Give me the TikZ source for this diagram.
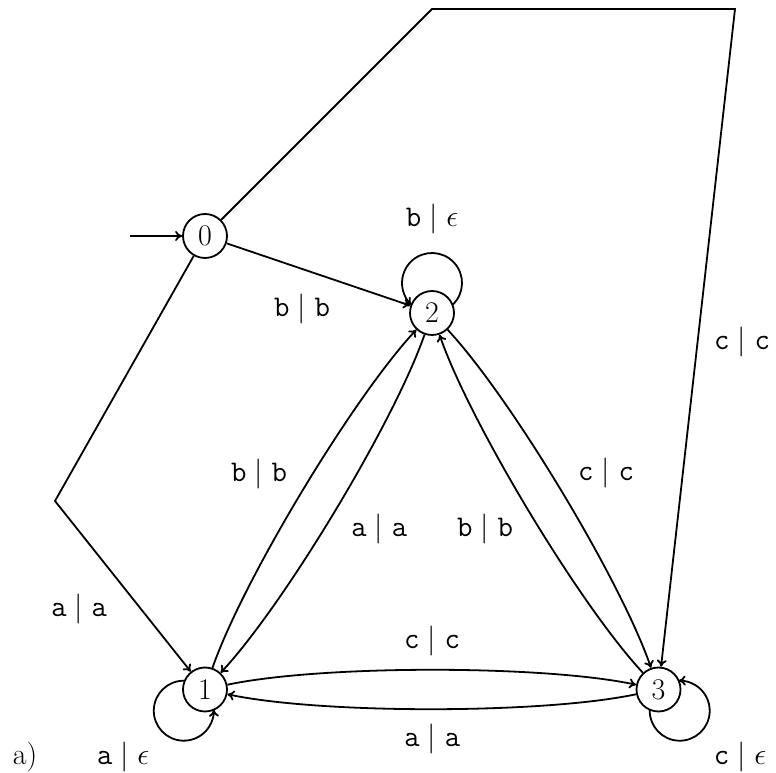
\RequirePackage{fix-cm}
\documentclass[tikz,border=0pt]{standalone}
\usetikzlibrary{arrows.meta}
\begin{document}
\begin{tikzpicture}[x=1pt,y=1pt, line width=1.8pt, >={To[length=7pt,width=10pt]},
  st/.style={circle, draw, minimum size=44pt, inner sep=0pt, font=\fontsize{30}{36}\selectfont},
  lab/.style={anchor=base, inner sep=0pt, font=\fontsize{30}{36}\selectfont},
  bl/.style={bend left=12, looseness=0.6}]
\useasboundingbox (0,0) rectangle (776,773);
% states
\node[st] (n0) at (205,537) {0};
\node[st] (n2) at (432,460) {2};
\node[st] (n1) at (205,83.5) {1};
\node[st] (n3) at (658.5,83.5) {3};
% helper coordinates
\coordinate (init) at (130,537);
\coordinate (cl) at (55,272);
\coordinate (ct1) at (432,764);
\coordinate (ct2) at (735,764);
% edges
\draw[->] (init) -- (n0);
\draw[->] (n0) -- (n2);
\draw[->] (n0) -- (cl) -- (n1);
\draw[->] (n0) -- (ct1) -- (ct2) -- (n3);
\draw[->] (n1) to[bl] (n2);
\draw[->] (n2) to[bl] (n1);
\draw[->] (n2) to[bl] (n3);
\draw[->] (n3) to[bl] (n2);
\draw[->] (n1) to[bl] (n3);
\draw[->] (n3) to[bl] (n1);
% loops
\draw[->] (n2) ++(90:30pt) ++(-47:30pt) arc[start angle=-47, end angle=227, radius=30pt];
\draw[->] (n1) ++(225:30pt) ++(88:30pt) arc[start angle=88, end angle=362, radius=30pt];
\draw[->] (n3) ++(-45:30pt) ++(178:30pt) arc[start angle=178, end angle=452, radius=30pt];
% labels
\node[lab] (lb2) at (432,546) {$\mathtt{b}\mid\epsilon$};
\node[lab] (l02) at (302,456) {$\mathtt{b}\mid\mathtt{b}$};
\node[lab] (l01) at (79,156) {$\mathtt{a}\mid\mathtt{a}$};
\node[lab] (l12) at (259,291) {$\mathtt{b}\mid\mathtt{b}$};
\node[lab] (l21) at (379,236) {$\mathtt{a}\mid\mathtt{a}$};
\node[lab] (l32) at (485,236) {$\mathtt{b}\mid\mathtt{b}$};
\node[lab] (l23) at (606,292) {$\mathtt{c}\mid\mathtt{c}$};
\node[lab] (l13) at (432,124) {$\mathtt{c}\mid\mathtt{c}$};
\node[lab] (l31) at (432,26) {$\mathtt{a}\mid\mathtt{a}$};
\node[lab] (lb1) at (123,8) {$\mathtt{a}\mid\epsilon$};
\node[lab] (lb3) at (740,8) {$\mathtt{c}\mid\epsilon$};
\node[lab] (l03) at (742,423) {$\mathtt{c}\mid\mathtt{c}$};
\node[lab] (la) at (25,8) {a)};
\end{tikzpicture}
\end{document}
